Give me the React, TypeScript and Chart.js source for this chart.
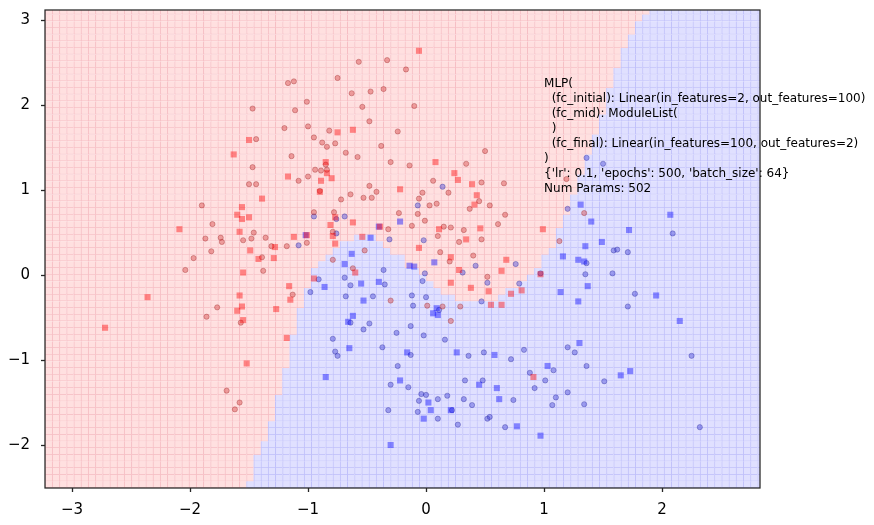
import React, { useEffect, useRef } from 'react';
import { Chart, registerables } from 'chart.js';
Chart.register(...registerables);

const xTicks = [-3, -2, -1, 0, 1, 2];
const yTicks = [-2, -1, 0, 1, 2, 3];
const xMin = -3.229, xMax = 2.83;
const yMin = -2.506, yMax = 3.12;

// decision-surface grid (meshgrid definition)
const gridXStart = -3.229, gridXStep = 0.061, gridCols = 100;
const gridYStart = -2.506, gridYStep = 0.0785, gridRows = 72;
// per grid column: y of the class boundary (red above, blue below)
const boundaryY = [
  -2.6, -2.6, -2.6, -2.6, -2.6, -2.6, -2.6, -2.6, -2.6, -2.6,
  -2.6, -2.6, -2.6, -2.6, -2.6, -2.6, -2.6, -2.6, -2.6, -2.6,
  -2.6, -2.6, -2.6, -2.6, -2.6, -2.6, -2.6, -2.6, -2.39, -2.15,
  -1.93, -1.72, -1.42, -1.08, -0.69, -0.40, -0.19, 0.05, 0.16, 0.27,
  0.35, 0.40, 0.40, 0.46, 0.47, 0.47, 0.41, 0.34, 0.27, 0.21,
  0.12, 0.05, -0.01, -0.08, -0.14, -0.20, -0.25, -0.28, -0.32, -0.32,
  -0.33, -0.32, -0.29, -0.24, -0.18, -0.12, -0.04, 0.04, 0.12, 0.21,
  0.35, 0.55, 0.74, 0.94, 1.18, 1.41, 1.65, 1.88, 2.20, 2.47,
  2.67, 2.82, 2.98, 3.09, 3.3, 3.3, 3.3, 3.3, 3.3, 3.3,
  3.3, 3.3, 3.3, 3.3, 3.3, 3.3, 3.3, 3.3, 3.3, 3.3,
];

const redCircles: [number, number][] = [
  [-1.17, 2.26], [-1.12, 2.28], [-1.01, 2.04], [-1.47, 1.96], [-1.11, 1.94], [-1.20, 1.73], [-1.00, 1.75],
  [-0.82, 1.70], [-0.95, 1.62], [-0.88, 1.56], [-0.77, 1.55], [-0.84, 1.51], [-1.44, 1.60], [-1.14, 1.40],
  [-0.85, 1.30], [-1.47, 1.27], [-0.94, 1.24], [-0.89, 1.23], [-0.84, 1.24], [-1.08, 1.11], [-1.00, 1.16],
  [-1.50, 1.07], [-1.44, 1.07], [-0.90, 0.99], [-0.75, 2.32], [-0.48, 1.05], [0.06, 1.11], [-1.90, 0.82],
  [-1.81, 0.60], [-1.46, 0.50], [-1.87, 0.43], [-1.74, 0.44], [-1.73, 0.39], [-1.55, 0.41], [-1.48, 0.43],
  [-1.36, 0.44], [-1.82, 0.28], [-1.31, 0.34], [-1.18, 0.34], [-1.01, 0.38], [-0.95, 0.74], [-0.78, 0.74],
  [-0.79, 0.51], [-0.72, 0.89], [-0.64, 0.95], [-0.53, 0.91], [-0.46, 0.91], [-0.42, 0.98], [-0.32, 0.54],
  [-0.52, 0.29], [-0.79, 0.18], [-0.62, 0.08], [-0.23, 0.73], [-0.12, 0.58], [-0.07, 0.72], [-0.01, 0.64],
  [-0.06, 0.90], [-0.03, 0.97], [0.03, 0.82], [0.09, 0.84], [0.19, 0.97], [0.15, 0.57], [0.21, 0.56],
  [0.10, 0.46], [0.28, 0.39], [0.12, 0.27], [0.20, 0.16], [-1.38, 0.05], [-1.13, -0.23], [-1.77, -0.38],
  [-1.86, -0.49], [-1.57, -0.56], [-0.30, -0.30], [0.01, -0.36], [0.14, -0.37], [0.21, -0.54], [0.50, 1.46],
  [0.34, 1.31], [0.47, 1.09], [0.66, 1.08], [0.45, 0.87], [0.54, 0.82], [0.37, 0.78], [0.67, 0.71],
  [0.61, 0.60], [0.32, 0.53], [0.47, 0.42], [1.13, 0.40], [1.34, 0.73], [0.40, 0.23], [0.52, -0.02],
  [0.29, -0.37], [-0.57, 2.51], [-0.33, 2.53], [-0.17, 2.42], [-0.47, 2.16], [-0.36, 2.19], [-0.63, 2.14],
  [-0.10, 1.99], [-0.54, 1.98], [-0.48, 1.81], [-0.24, 1.69], [-0.68, 1.44], [-0.38, 1.52], [-0.58, 1.39],
  [-0.14, 1.29], [-0.30, 1.33], [-2.04, 0.06], [-1.97, 0.20], [-1.69, -1.36], [-1.58, -1.50], [-1.62, -1.58],
  [-1.39, 0.21], [1.19, 1.13],
];

const redSquares: [number, number][] = [
  [-0.75, 1.68], [-1.50, 1.59], [-1.63, 1.42], [-0.85, 1.33], [-0.84, 1.20], [-1.17, 1.16], [-0.80, 1.14],
  [-0.89, 1.11], [-0.90, 0.98], [-1.39, 0.90], [-0.22, 1.01], [-1.56, 0.80], [-1.60, 0.71], [-1.56, 0.66],
  [-1.50, 0.68], [-1.58, 0.51], [-1.49, 0.29], [-1.28, 0.33], [-1.12, 0.45], [-1.01, 0.47], [-0.81, 0.59],
  [-0.77, 0.68], [-0.79, 0.46], [-0.77, 0.37], [-0.62, 0.62], [-0.39, 0.57], [-0.54, 0.45], [-0.60, 0.03],
  [0.11, 0.54], [-0.06, 0.32], [0.21, 0.21], [0.21, -0.09], [0.28, 0.06], [-0.95, -0.04], [-1.16, -0.13],
  [-1.55, 0.03], [-1.58, -0.24], [-1.56, -0.37], [-1.60, -0.42], [-1.15, -0.29], [-1.27, -0.40], [-1.55, -0.53],
  [-1.18, -0.74], [-1.52, -1.04], [-1.42, 0.19], [-1.29, 0.20], [0.24, 1.20], [0.27, 1.12], [0.39, 1.07],
  [0.43, 0.94], [0.41, 0.83], [0.46, 0.55], [0.34, 0.42], [0.99, 0.54], [0.68, 0.18], [0.64, 0.05],
  [0.38, -0.15], [0.53, -0.19], [0.72, -0.22], [0.81, -0.18], [0.97, 0.01], [0.55, -0.35], [0.64, -0.35],
  [-0.06, 2.64], [-0.62, 1.71], [0.08, 1.33], [-2.09, 0.54], [-2.36, -0.26], [-2.72, -0.62], [0.91, -1.20],
];

const blueCircles: [number, number][] = [
  [0.14, 1.04], [-0.07, 0.82], [-0.95, 0.69], [-0.76, 0.66], [-0.69, 0.69], [-0.76, 0.49], [-0.31, 0.42],
  [-1.08, 0.35], [-0.02, 0.41], [-0.36, 0.06], [-0.01, 0.02], [-0.91, -0.05], [-0.69, -0.03], [-0.35, -0.11],
  [-0.64, -0.12], [-0.03, -0.07], [-0.98, -0.20], [-0.68, -0.25], [-0.45, -0.25], [-0.12, -0.24], [0.00, -0.26],
  [-0.11, -0.36], [0.11, -0.41], [-0.64, -0.56], [-0.48, -0.57], [-0.13, -0.60], [-0.53, -0.64], [1.50, 1.31],
  [1.20, 0.78], [1.59, 0.29], [1.62, 0.30], [1.71, 0.27], [1.36, 0.14], [0.42, 0.11], [0.76, 0.13],
  [0.31, 0.03], [0.97, 0.02], [1.35, 0.01], [1.58, 0.02], [0.52, -0.09], [0.79, -0.10], [1.77, -0.22],
  [0.47, -0.31], [1.71, -0.37], [-0.79, -0.75], [-0.77, -0.90], [-0.75, -0.95], [-0.30, -1.29], [-0.15, -1.32],
  [-0.04, -1.40], [0.00, -1.41], [-0.06, -1.48], [0.10, -1.46], [0.18, -1.42], [0.32, -1.46], [0.39, -1.53],
  [0.48, -1.24], [-0.32, -1.59], [-0.07, -1.61], [0.22, -1.59], [0.10, -1.69], [0.27, -1.76], [0.52, -1.69],
  [0.54, -1.67], [0.33, -1.24], [1.36, 1.38], [2.09, 0.49], [2.25, -0.95], [2.32, -1.79], [1.51, -1.25],
  [1.36, -1.07], [1.26, -0.91], [1.20, -0.85], [1.08, -1.12], [1.01, -1.24], [0.88, -1.15], [0.83, -0.88],
  [0.72, -0.99], [0.49, -0.91], [0.36, -0.95], [0.16, -0.76], [-0.02, -0.71], [-0.13, -0.94], [-0.24, -1.07],
  [-0.37, -0.85], [-0.25, -0.68], [0.67, -1.79], [0.74, -1.47], [0.92, -1.33], [1.07, -1.53], [1.10, -1.44],
  [1.20, -1.38], [1.34, -1.52],
];

const blueSquares: [number, number][] = [
  [-0.40, 0.57], [-0.22, 0.63], [-0.47, 0.44], [-1.02, 0.47], [-0.63, 0.25], [-0.69, 0.13], [-0.14, 0.11],
  [-0.10, 0.10], [0.07, 0.15], [-0.40, -0.08], [-0.55, -0.10], [-0.86, -0.14], [-0.53, -0.30], [0.09, -0.39],
  [0.06, -0.45], [0.10, -0.47], [-0.62, -0.48], [-0.66, -0.55], [1.31, 0.83], [1.40, 0.63], [1.72, 0.53],
  [1.49, 0.39], [1.35, 0.34], [1.16, 0.22], [1.29, 0.18], [1.34, 0.16], [1.37, -0.13], [1.14, -0.20],
  [1.29, -0.31], [-0.85, -1.20], [-0.65, -0.86], [-0.22, -1.24], [0.02, -1.50], [0.45, -1.29], [0.60, -1.33],
  [0.62, -1.46], [0.04, -1.59], [0.21, -1.59], [-0.02, -1.69], [-0.30, -2.00], [2.07, 0.71], [1.95, -0.24],
  [2.15, -0.54], [1.65, -1.18], [1.73, -1.13], [1.30, -0.80], [1.03, -1.07], [0.58, -0.94], [0.26, -0.91],
  [-0.16, -0.91], [0.77, -1.78], [0.97, -1.89],
];

const annotationLines = [
  'MLP(',
  '  (fc_initial): Linear(in_features=2, out_features=100)',
  '  (fc_mid): ModuleList(',
  '  )',
  '  (fc_final): Linear(in_features=100, out_features=2)',
  ')',
  "{'lr': 0.1, 'epochs': 500, 'batch_size': 64}",
  'Num Params: 502',
];
const annotationX = 1.0;
const annotationY = 2.25;

const RED_CELL = 'rgb(255,224,224)';
const RED_EDGE = 'rgb(246,190,196)';
const BLUE_CELL = 'rgb(224,224,255)';
const BLUE_EDGE = 'rgb(192,192,250)';

const fmt = (v: number) => String(v).replace('-', '\u2212');

export default function App() {
  const ref = useRef<HTMLCanvasElement | null>(null);
  useEffect(() => {
    document.body.style.margin = '0';
    const canvas = ref.current;
    if (!canvas) return;

    const centersX = Array.from({ length: gridCols }, (_, i) => gridXStart + (i + 0.5) * gridXStep);
    const cellSets: any[] = [];
    for (let j = 0; j < gridRows; j++) {
      const lo = gridYStart + j * gridYStep;
      const hi = lo + gridYStep;
      const mid = (lo + hi) / 2;
      const isRed = centersX.map((_, i) => mid > boundaryY[i]);
      cellSets.push({
        type: 'bar',
        data: centersX.map((x) => ({ x, y: [lo, hi] })),
        backgroundColor: isRed.map((r) => (r ? RED_CELL : BLUE_CELL)),
        borderColor: isRed.map((r) => (r ? RED_EDGE : BLUE_EDGE)),
        borderWidth: { left: 1, bottom: 1, top: 0, right: 0 },
        borderSkipped: false,
        barPercentage: 1,
        categoryPercentage: 1,
        clip: 0,
        order: 10,
      });
    }

    const pts = (arr: [number, number][]) => arr.map(([x, y]) => ({ x, y }));
    const pointSets: any[] = [
      {
        type: 'scatter', data: pts(redCircles), pointStyle: 'circle', pointRadius: 2.6,
        backgroundColor: 'rgba(215,60,60,0.42)', borderColor: 'rgba(150,40,40,0.45)', borderWidth: 0.8, order: 1,
      },
      {
        type: 'scatter', data: pts(blueCircles), pointStyle: 'circle', pointRadius: 2.6,
        backgroundColor: 'rgba(60,60,215,0.42)', borderColor: 'rgba(40,40,150,0.45)', borderWidth: 0.8, order: 1,
      },
      {
        type: 'scatter', data: pts(redSquares), pointStyle: 'rect', pointRadius: 4.3,
        backgroundColor: 'rgba(255,0,0,0.42)', borderWidth: 0, order: 0,
      },
      {
        type: 'scatter', data: pts(blueSquares), pointStyle: 'rect', pointRadius: 4.3,
        backgroundColor: 'rgba(0,0,255,0.42)', borderWidth: 0, order: 0,
      },
    ];

    const overlay = {
      id: 'overlay',
      afterDatasetsDraw(chart: any) {
        const { ctx, chartArea: a, scales } = chart;
        ctx.save();
        ctx.strokeStyle = '#262626';
        ctx.lineWidth = 1.25;
        ctx.strokeRect(a.left, a.top, a.right - a.left, a.bottom - a.top);
        ctx.font = '12px "DejaVu Sans"';
        ctx.fillStyle = '#000';
        ctx.textBaseline = 'middle';
        ctx.textAlign = 'left';
        const x = scales.x.getPixelForValue(annotationX);
        const y0 = scales.y.getPixelForValue(annotationY);
        annotationLines.forEach((l, i) => ctx.fillText(l, x, y0 + i * 14.95));
        ctx.restore();
      },
    };

    const tickFont = { family: '"DejaVu Sans"', size: 15 };
    const chart = new Chart(canvas, {
      type: 'bar',
      data: { datasets: [...pointSets, ...cellSets] },
      options: {
        animation: false,
        responsive: false,
        events: [],
        layout: { padding: { left: 0, right: 114, top: 10, bottom: 0 } },
        plugins: { legend: { display: false }, tooltip: { enabled: false } },
        scales: {
          x: {
            type: 'linear',
            min: xMin,
            max: xMax,
            offset: false,
            stacked: true,
            afterBuildTicks: (s: any) => { s.ticks = xTicks.map((value) => ({ value })); },
            afterFit: (s: any) => { s.height = 37; s.paddingLeft = 0; s.paddingRight = 0; },
            grid: { display: true, offset: false, drawOnChartArea: false, drawTicks: true, tickLength: 4, tickWidth: 1.3, tickColor: '#262626' },
            border: { display: false },
            ticks: { font: tickFont, color: '#000', padding: 9, maxRotation: 0, autoSkip: false, callback: (v: any) => fmt(v) },
          },
          y: {
            type: 'linear',
            min: yMin,
            max: yMax,
            stacked: false,
            afterBuildTicks: (s: any) => { s.ticks = yTicks.map((value) => ({ value })); },
            afterFit: (s: any) => { s.width = 45; s.paddingTop = 0; s.paddingBottom = 0; },
            grid: { display: true, drawOnChartArea: false, drawTicks: true, tickLength: 4, tickWidth: 1.3, tickColor: '#262626' },
            border: { display: false },
            ticks: { font: tickFont, color: '#000', padding: 11, autoSkip: false, callback: (v: any) => fmt(v) },
          },
        },
      } as any,
      plugins: [overlay],
    });
    return () => chart.destroy();
  }, []);

  return (
    <div style={{ position: 'absolute', left: 0, top: 0, width: 874, height: 525 }}>
      <canvas ref={ref} width={874} height={525} style={{ width: 874, height: 525, display: 'block' }} />
    </div>
  );
}
